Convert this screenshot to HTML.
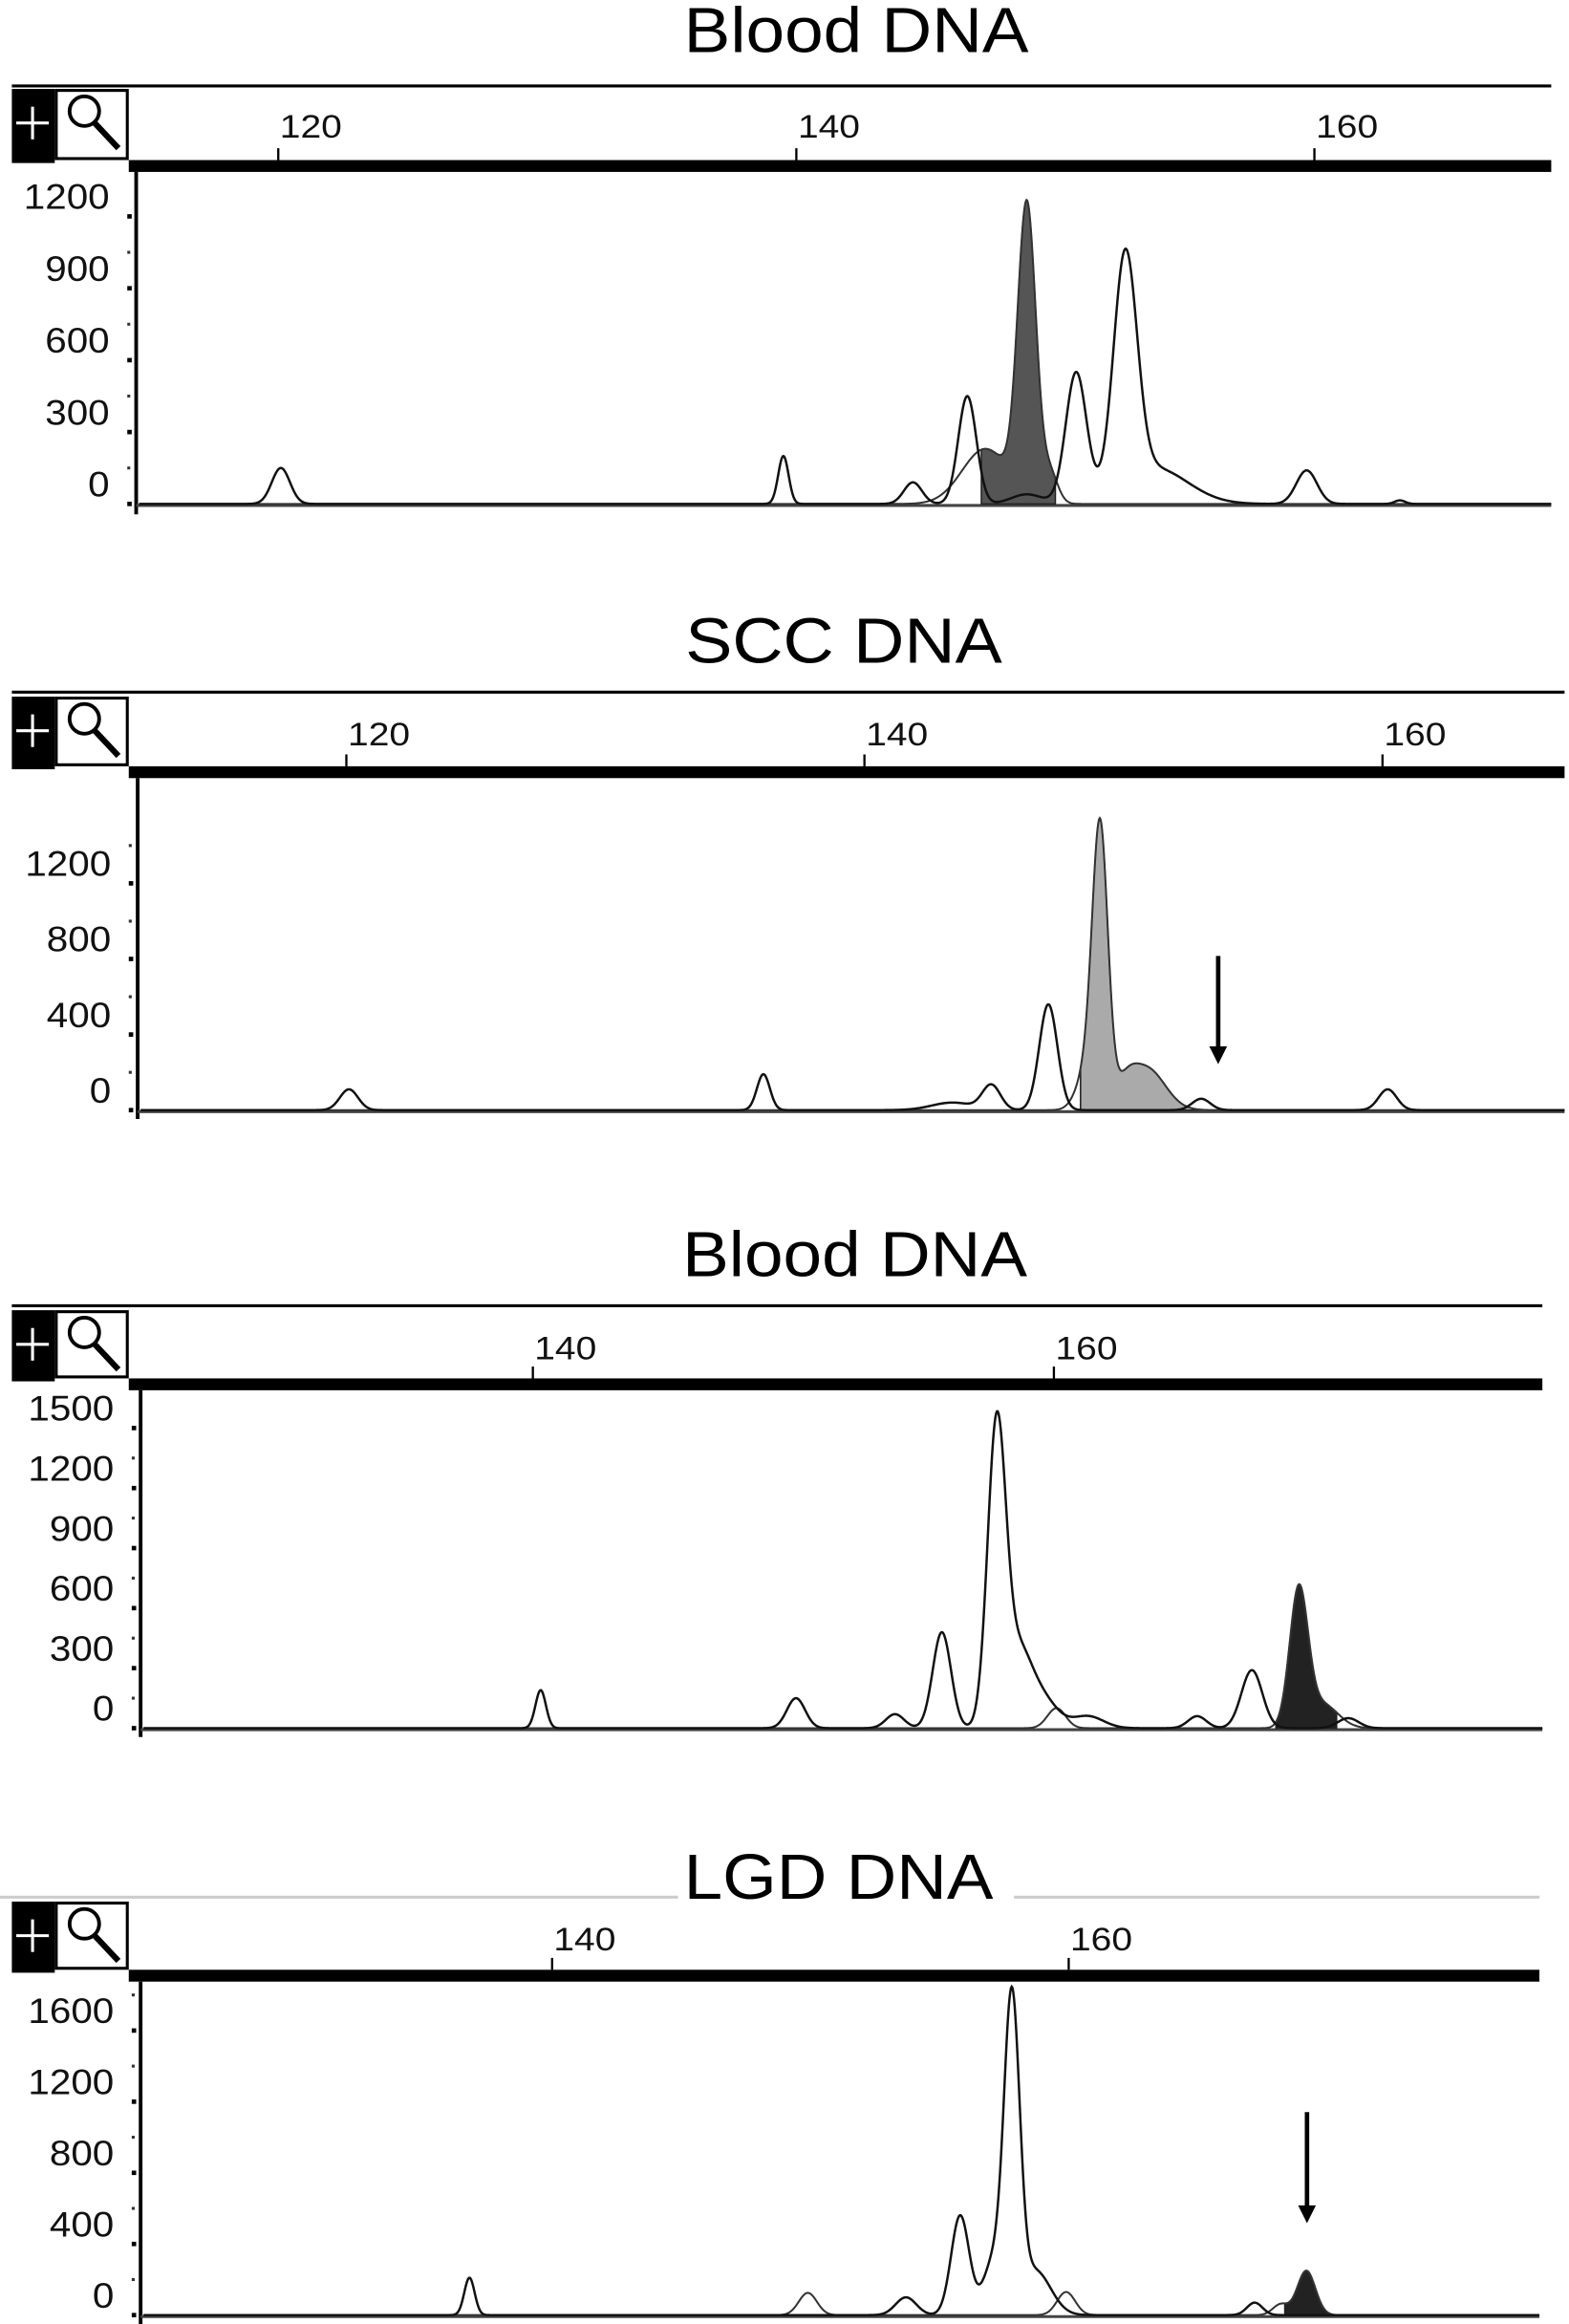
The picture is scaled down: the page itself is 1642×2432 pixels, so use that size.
<!DOCTYPE html>
<html><head><meta charset="utf-8">
<style>
html,body{margin:0;padding:0;background:#fff;}
svg{display:block;}
text{font-family:"Liberation Sans",sans-serif;}
</style></head>
<body>
<svg id="fig" xmlns="http://www.w3.org/2000/svg" width="1642" height="2432" viewBox="0 0 1060 1568" preserveAspectRatio="none"></svg>
<script>
// ---- Panel 1 (Blood DNA) data ----
const p1Pos=[120.1,139.5,144.5,146.6,148.9,150.8,152.7,153.8,159.7,163.3];
const p1Hgt=[150,200,90,450,40,540,960,150,140,15];
const p1Wid=[0.35,0.2,0.35,0.35,0.6,0.4,0.45,1.3,0.4,0.2];
const p1FillPos=[148.9,147.3,149.8];
const p1FillHgt=[1220,230,120];
const p1FillWid=[0.35,0.9,0.3];
const p1YTicks=[0,300,600,900,1200];
// ---- Panel 2 (SCC DNA) data ----
const p2Pos=[120.1,136.1,143.4,144.9,147.1,153.0,160.2];
const p2Hgt=[110,190,40,130,560,60,110];
const p2Wid=[0.35,0.25,0.8,0.35,0.35,0.35,0.35];
const p2FillPos=[149.1,150.1,150.9,148.6];
const p2FillHgt=[1440,100,220,200];
const p2FillWid=[0.3,0.4,0.7,0.4];
const p2YTicks=[0,400,800,1200];
// ---- Panel 3 (Blood DNA) data ----
const p3Pos=[140.3,150.1,153.9,155.7,157.8,158.6,159.5,161.3,165.5,167.6,171.3];
const p3Hgt=[190,150,70,480,1480,350,150,60,60,290,50];
const p3Wid=[0.2,0.35,0.35,0.35,0.35,0.5,0.6,0.6,0.35,0.4,0.4];
const p3FillPos=[169.4,170.3,160.1];
const p3FillHgt=[680,120,100];
const p3FillWid=[0.35,0.6,0.35];
const p3YTicks=[0,300,600,900,1200,1500];
// ---- Panel 4 (LGD DNA) data ----
const p4Pos=[136.8,153.7,155.8,157.1,157.8,158.7,167.2];
const p4Hgt=[210,100,560,300,1700,250,70];
const p4Wid=[0.2,0.4,0.35,0.4,0.3,0.6,0.3];
const p4FillPos=[169.2,149.9,159.9,168.2];
const p4FillHgt=[250,125,130,60];
const p4FillWid=[0.35,0.35,0.35,0.3];
const p4YTicks=[0,400,800,1200,1600];

const NS="http://www.w3.org/2000/svg";
const svg=document.getElementById('fig');
function mk(tag,attrs,parent){const e=document.createElementNS(NS,tag);for(const k in attrs)e.setAttribute(k,attrs[k]);(parent||svg).appendChild(e);return e;}

const panels=[
 {title:'Blood DNA',tl0:462,tl1:695,ty:35,top:58,tb:60,bar:108,x0:188,bp0:120,ppb:17.5,ticks:[120,140,160],axX:92,axBot:347,base:340,ppu:48.5/300,xr:1048,
  pos:p1Pos,h:p1Hgt,w:p1Wid,fp:p1FillPos,fh:p1FillHgt,fw:p1FillWid,yt:p1YTicks,fill:'#555',fx:[663,713],arrow:null},
 {title:'SCC DNA',tl0:463,tl1:677,ty:447,top:467,tb:470,bar:517,x0:234,bp0:120,ppb:17.5,ticks:[120,140,160],axX:93,axBot:755,base:749,ppu:51/400,xr:1057,
  pos:p2Pos,h:p2Hgt,w:p2Wid,fp:p2FillPos,fh:p2FillHgt,fw:p2FillWid,yt:p2YTicks,fill:'#aaa',fx:[730,810],arrow:[823,645,718]},
 {title:'Blood DNA',tl0:461,tl1:694,ty:861,top:881,tb:884,bar:930,x0:360,bp0:140,ppb:17.6,ticks:[140,160],axX:95,axBot:1172,base:1166,ppu:40.5/300,xr:1042,
  pos:p3Pos,h:p3Hgt,w:p3Wid,fp:p3FillPos,fh:p3FillHgt,fw:p3FillWid,yt:p3YTicks,fill:'#222',fx:[862,903],arrow:null},
 {title:'LGD DNA',tl0:462,tl1:671,ty:1281,top:1280,tb:1283,bar:1329,x0:373,bp0:140,ppb:17.45,ticks:[140,160],axX:95,axBot:1568,base:1562,ppu:48/400,xr:1040,
  pos:p4Pos,h:p4Hgt,w:p4Wid,fp:p4FillPos,fh:p4FillHgt,fw:p4FillWid,yt:p4YTicks,fill:'#222',fx:[868,900],arrow:[883,1425,1500]}
];

function sumPeaks(bp,P,H,W){let s=0;for(let i=0;i<P.length;i++){const d=(bp-P[i])/W[i];s+=H[i]*Math.exp(-0.5*d*d);}return s;}

panels.forEach((p,idx)=>{
 const g=mk('g',{});
 
 
 const xs=bp=>p.x0+(bp-p.bp0)*p.ppb;
 const bpOf=x=>p.bp0+(x-p.x0)/p.ppb;
 const ys=v=>p.base-v*p.ppu;
 // top line
 if(idx==3){
  const a=mk('line',{x1:0,y1:p.top,x2:p.tl0-4,y2:p.top,stroke:'#ccc','stroke-width':2},g);
  
  
  mk('line',{x1:p.tl1+14,y1:p.top,x2:p.xr,y2:p.top,stroke:'#ccc','stroke-width':2},g);
 } else {
  const tl=mk('line',{x1:8,y1:p.top,x2:p.xr,y2:p.top,stroke:'#000','stroke-width':2},g);
  
  
 }
 const t=mk('text',{x:p.tl0,y:p.ty,'font-size':43,textLength:p.tl1-p.tl0,lengthAdjust:'spacingAndGlyphs'},g);
 t.textContent=p.title;
 
 
 // toolbar
 const cb=mk('rect',{x:8,y:p.tb,width:29,height:p.bar-p.tb+2,fill:'#000'},g);
 
 
 mk('line',{x1:22,y1:p.tb+12,x2:22,y2:p.tb+34,stroke:'#fff','stroke-width':2},g);
 mk('line',{x1:11,y1:p.tb+23,x2:33,y2:p.tb+23,stroke:'#fff','stroke-width':2},g);
 const zb=mk('rect',{x:38,y:p.tb+1,width:48,height:p.bar-p.tb-2,fill:'#fff',stroke:'#000','stroke-width':2},g);
 
 
 mk('circle',{cx:57,cy:p.tb+15,r:10,fill:'none',stroke:'#000','stroke-width':2.5},g);
 mk('line',{x1:64,y1:p.tb+23,x2:80,y2:p.tb+40,stroke:'#000','stroke-width':4},g);
 // thick bar
 const tb=mk('rect',{x:87,y:p.bar,width:p.xr-87,height:8,fill:'#000'},g);
 
 
 p.ticks.forEach(v=>{
  const x=xs(v);
  mk('line',{x1:x,y1:p.bar-8,x2:x,y2:p.bar,stroke:'#000','stroke-width':1.5},g);
  const s=String(v);
  const l=mk('text',{x:x+1,y:p.tb+33,'font-size':22,fill:'#111',textLength:14*s.length,lengthAdjust:'spacingAndGlyphs'},g);
  l.textContent=s;
  
  
 });
 // y axis
 const ax=mk('line',{x1:p.axX,y1:p.bar+8,x2:p.axX,y2:p.axBot,stroke:'#000','stroke-width':2.5},g);
 
 
 p.yt.forEach(v=>{
  const y=ys(v);
  mk('rect',{x:p.axX-6,y:y-1.5,width:3,height:3,fill:'#000'},g);
  const s=String(v);
  const l=mk('text',{x:p.axX-18,y:y-5,'text-anchor':'end','font-size':24,fill:'#111',textLength:14.5*s.length,lengthAdjust:'spacingAndGlyphs'},g);
  l.textContent=s;
  
  
 });
 // minor ticks
 const step=(p.yt[1]-p.yt[0])/2;
 for(let v=step;v<=p.yt[p.yt.length-1]+step*2;v+=step*2){
  const y=ys(v); if(y<p.bar+14)break;
  mk('rect',{x:p.axX-6,y:y-1,width:2,height:2,fill:'#333'},g);
 }
 // baseline
 const bl=mk('line',{x1:p.axX,y1:p.base+1,x2:p.xr,y2:p.base+1,stroke:'#444','stroke-width':2},g);
 
 
 // filled series
 let fd='M'+p.fx[0]+','+p.base;
 for(let x=p.fx[0];x<=p.fx[1];x+=0.5){fd+=' L'+x+','+ys(sumPeaks(bpOf(x),p.fp,p.fh,p.fw)).toFixed(2);}
 fd+=' L'+p.fx[1]+','+p.base+' Z';
 const fa=mk('path',{d:fd,fill:p.fill,stroke:'#222','stroke-width':1},g);
 
 
 let sd='';
 for(let x=p.axX+2;x<=p.xr;x+=0.5){sd+=(sd?' L':'M')+x+','+ys(sumPeaks(bpOf(x),p.fp,p.fh,p.fw)).toFixed(2);}
 const s2=mk('path',{d:sd,fill:'none',stroke:'#333','stroke-width':1.3},g);
 
 
 // main series
 let d='';
 for(let x=p.axX+2;x<=p.xr;x+=0.5){d+=(d?' L':'M')+x+','+ys(sumPeaks(bpOf(x),p.pos,p.h,p.w)).toFixed(2);}
 const s1=mk('path',{d:d,fill:'none',stroke:'#111','stroke-width':1.6},g);
 
 
 if(p.arrow){
  const a=p.arrow;
  const ar=mk('g',{},g);
  
  
  mk('line',{x1:a[0],y1:a[1],x2:a[0],y2:a[2]-8,stroke:'#000','stroke-width':3},ar);
  mk('polygon',{points:(a[0]-6)+','+(a[2]-12)+' '+(a[0]+6)+','+(a[2]-12)+' '+a[0]+','+a[2],fill:'#000'},ar);
 }
});
</script>
</body></html>
